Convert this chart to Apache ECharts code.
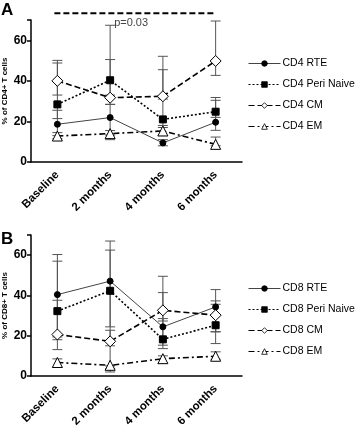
<!DOCTYPE html>
<html><head><meta charset="utf-8">
<script src="https://cdn.jsdelivr.net/npm/echarts@6/dist/echarts.min.js"></script>
<style>html,body{margin:0;padding:0;background:#fff}#c{width:360px;height:426px}</style>
</head><body><div id="c"></div>
<script>
var categories = ['Baseline', '2 months', '4 months', '6 months'];
var yTicks = [0, 20, 40, 60];

// Panel A (CD4)
var cd4Names = ['CD4 RTE', 'CD4 Peri Naive', 'CD4 CM', 'CD4 EM'];
var cd4RTE = [18.6, 21.9, 9.4, 19.6];
var cd4Peri = [28.4, 40.3, 21.0, 24.8];
var cd4CM = [40.0, 31.7, 32.4, 49.8];
var cd4EM = [12.8, 14.0, 15.3, 8.7];
var cd4RTELow = [13.0, 13.3, 8.0, 15.6];
var cd4RTEHigh = [25.5, 28.4, 11.0, 30.4];
var cd4PeriLow = [21.4, 33.0, 18.0, 22.0];
var cd4PeriHigh = [48.8, 67.4, 45.5, 31.8];
var cd4CMLow = [33.0, 28.4, 31.0, 42.7];
var cd4CMHigh = [50.1, 50.5, 52.1, 69.5];
var cd4EMLow = [11.5, 11.0, 13.0, 8.0];
var cd4EMHigh = [14.5, 15.5, 17.0, 12.3];

// Panel B (CD8)
var cd8Names = ['CD8 RTE', 'CD8 Peri Naive', 'CD8 CM', 'CD8 EM'];
var cd8RTE = [40.4, 47.1, 24.4, 34.3];
var cd8Peri = [32.2, 42.3, 18.2, 25.2];
var cd8CM = [20.6, 17.2, 32.6, 30.2];
var cd8EM = [6.7, 5.3, 8.6, 9.8];
var cd8RTELow = [19.4, 24.4, 13.6, 21.9];
var cd8RTEHigh = [60.3, 67.0, 41.4, 42.9];
var cd8PeriLow = [13.1, 5.0, 15.3, 16.1];
var cd8PeriHigh = [57.0, 62.5, 28.5, 35.6];
var cd8CMLow = [18.0, 15.0, 27.3, 22.0];
var cd8CMHigh = [37.6, 22.7, 49.5, 37.3];
var cd8EMLow = [4.5, 2.0, 6.3, 8.3];
var cd8EMHigh = [8.5, 3.7, 10.0, 12.0];

var sigValue = 73.3;
var sigText = 'p=0.03';

var FONT = 'Liberation Sans, Arial, sans-serif';
var styles = [
  {symbol: 'circle', size: 6, fill: '#000', line: {type: 'solid', width: 1, color: '#444'}},
  {symbol: 'rect', size: 7, fill: '#000', line: {type: [2, 2], width: 1.6, color: '#000'}},
  {symbol: 'diamond', size: 11, fill: '#fff', line: {type: [6, 3], width: 1.6, color: '#000'}},
  {symbol: 'triangle', size: 10, fill: '#fff', line: {type: [6, 3, 2, 3], width: 1.6, color: '#000'}}
];

function lineSeries(name, data, i, gi) {
  var s = styles[i];
  return {
    type: 'line', name: name, data: data, xAxisIndex: gi, yAxisIndex: gi,
    symbol: s.symbol, symbolSize: s.size, z: 5,
    lineStyle: s.line,
    itemStyle: {color: s.fill, borderColor: '#000', borderWidth: 1},
    emphasis: {disabled: true}, animation: false
  };
}
function errSeries(low, high, gi) {
  var d = [];
  for (var k = 0; k < low.length; k++) d.push([k, low[k], high[k]]);
  return {
    type: 'custom', xAxisIndex: gi, yAxisIndex: gi, data: d, z: 3, silent: true,
    animation: false,
    renderItem: function (params, api) {
      var idx = api.value(0);
      var p1 = api.coord([idx, api.value(1)]);
      var p2 = api.coord([idx, api.value(2)]);
      var hw = 5;
      var st = {stroke: '#555', lineWidth: 1};
      return {type: 'group', children: [
        {type: 'line', shape: {x1: p1[0], y1: p1[1], x2: p2[0], y2: p2[1]}, style: st},
        {type: 'line', shape: {x1: p1[0] - hw, y1: p1[1], x2: p1[0] + hw, y2: p1[1]}, style: st},
        {type: 'line', shape: {x1: p2[0] - hw, y1: p2[1], x2: p2[0] + hw, y2: p2[1]}, style: st}
      ]};
    }
  };
}
function xAx(gi) {
  return {
    type: 'category', data: categories, gridIndex: gi, boundaryGap: true,
    axisLine: {lineStyle: {color: '#000', width: 1.5}},
    axisTick: {alignWithLabel: true, length: 4, lineStyle: {color: '#000', width: 1.5}},
    axisLabel: {rotate: 45, color: '#000', fontFamily: FONT, fontSize: 11.5, fontWeight: 'bold', margin: 11, interval: 0}
  };
}
function yAx(gi, name) {
  return {
    type: 'value', gridIndex: gi, min: 0, max: 70, interval: 20,
    name: name, nameLocation: 'middle', nameGap: 22, nameMoveOverlap: false,
    nameTextStyle: {fontFamily: FONT, fontSize: 8, fontWeight: 'bold', color: '#000'},
    axisLine: {show: true, lineStyle: {color: '#000', width: 1.5}},
    axisTick: {show: true, length: 4, lineStyle: {color: '#000', width: 1.5}},
    splitLine: {show: false},
    axisLabel: {color: '#000', fontFamily: FONT, fontSize: 12, fontWeight: 'bold', margin: 4,
      formatter: function (v) { return yTicks.indexOf(v) >= 0 ? String(v) : ''; }}
  };
}
function legend(names, top) {
  var items = names.map(function (n, i) {
    return {name: n, itemStyle: {color: styles[i].fill, borderColor: '#000', borderWidth: 0.8}};
  });
  return {
    data: items, orient: 'vertical', left: 243, top: top, itemWidth: 32, itemHeight: 7, itemGap: 10,
    lineStyle: {width: 1},
    textStyle: {fontFamily: FONT, fontSize: 10.5, color: '#000', padding: [0, 0, 0, -3]}, selectedMode: false
  };
}

var series = [
  errSeries(cd4RTELow, cd4RTEHigh, 0), errSeries(cd4PeriLow, cd4PeriHigh, 0),
  errSeries(cd4CMLow, cd4CMHigh, 0), errSeries(cd4EMLow, cd4EMHigh, 0),
  errSeries(cd8RTELow, cd8RTEHigh, 1), errSeries(cd8PeriLow, cd8PeriHigh, 1),
  errSeries(cd8CMLow, cd8CMHigh, 1), errSeries(cd8EMLow, cd8EMHigh, 1),
  lineSeries(cd4Names[0], cd4RTE, 0, 0), lineSeries(cd4Names[1], cd4Peri, 1, 0),
  lineSeries(cd4Names[2], cd4CM, 2, 0), lineSeries(cd4Names[3], cd4EM, 3, 0),
  lineSeries(cd8Names[0], cd8RTE, 0, 1), lineSeries(cd8Names[1], cd8Peri, 1, 1),
  lineSeries(cd8Names[2], cd8CM, 2, 1), lineSeries(cd8Names[3], cd8EM, 3, 1)
];

var chart = echarts.init(document.getElementById('c'), null, {renderer: 'canvas'});
chart.setOption({
  animation: false,
  grid: [
    {left: 31, width: 211, top: 20, height: 142, containLabel: false, outerBoundsMode: 'none'},
    {left: 31, width: 211, top: 235, height: 141, containLabel: false, outerBoundsMode: 'none'}
  ],
  xAxis: [xAx(0), xAx(1)],
  yAxis: [yAx(0, '% of CD4+ T cells'), yAx(1, '% of CD8+ T cells')],
  legend: [legend(cd4Names, 53), legend(cd8Names, 278)],
  series: series
});

var pA = chart.convertToPixel({xAxisIndex: 0, yAxisIndex: 0}, [0, sigValue]);
var pB = chart.convertToPixel({xAxisIndex: 0, yAxisIndex: 0}, [3, sigValue]);
var pMid = chart.convertToPixel({xAxisIndex: 0, yAxisIndex: 0}, [1, sigValue]);
chart.setOption({
  graphic: [
    {type: 'line', shape: {x1: pA[0] - 3, y1: pA[1], x2: pB[0], y2: pB[1]},
      style: {stroke: '#000', lineWidth: 2, lineDash: [6, 3]}},
    {type: 'text', x: pMid[0] + 4, y: pA[1] + 4,
      style: {text: sigText, fill: '#444', font: '11px ' + FONT}},
    {type: 'text', x: 1, y: 2, style: {text: 'A', fill: '#000', font: 'bold 17px ' + FONT}},
    {type: 'text', x: 1, y: 231, style: {text: 'B', fill: '#000', font: 'bold 17px ' + FONT}}
  ]
});
</script></body></html>
